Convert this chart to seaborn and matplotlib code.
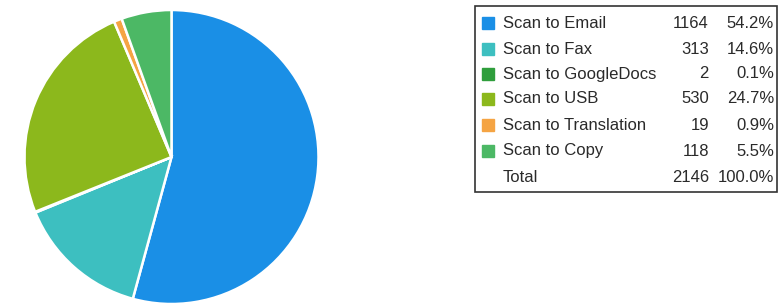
import seaborn as sns
import matplotlib.pyplot as plt
from matplotlib.patches import Rectangle

# Scan usage by destination
labels = ['Scan to Email', 'Scan to Fax', 'Scan to GoogleDocs', 'Scan to USB',
          'Scan to Translation', 'Scan to Copy']
counts = [1164, 313, 2, 530, 19, 118]
colors = ['#1a8fe6', '#3dbfc0', '#2f9e3c', '#8cb81c', '#f5a443', '#4cb865']

sns.set_style('white')
plt.rcParams['font.family'] = ['Liberation Sans', 'DejaVu Sans']

W, H = 780, 307
fig = plt.figure(figsize=(W / 100, H / 100), dpi=100)

# pie, starting at 12 o'clock and going clockwise
ax = fig.add_axes([24.5 / W, 3 / H, 294 / W, 294 / H])
ax.pie(counts, colors=colors, startangle=90, counterclock=False,
       wedgeprops=dict(edgecolor='white', linewidth=1.8))
ax.set_xlim(-1.0, 1.0)
ax.set_ylim(-1.0, 1.0)
ax.set_aspect('equal')
ax.axis('off')

# legend table
total = sum(counts)
fig.patches.append(Rectangle((475 / W, 1 - 192 / H), 302 / W, 186 / H,
                             transform=fig.transFigure, fill=False,
                             edgecolor='#333333', linewidth=1.2))
rows_y = [23, 49, 74, 99, 125, 151, 177]
fs = 12
tc = '#2a2a2a'
for i, (lab, c, col) in enumerate(zip(labels, counts, colors)):
    y = 1 - rows_y[i] / H
    fig.patches.append(Rectangle((482 / W, y - 6 / H), 12 / W, 12 / H,
                                 transform=fig.transFigure, color=col))
    fig.text(503 / W, y, lab, va='center', ha='left', fontsize=fs, color=tc)
    fig.text(709 / W, y, f'{c}', va='center', ha='right', fontsize=fs, color=tc)
    fig.text(774 / W, y, f'{c / total * 100:.1f}%', va='center', ha='right',
             fontsize=fs, color=tc)
y = 1 - rows_y[-1] / H
fig.text(503 / W, y, 'Total', va='center', ha='left', fontsize=fs, color=tc)
fig.text(709 / W, y, f'{total}', va='center', ha='right', fontsize=fs, color=tc)
fig.text(774 / W, y, '100.0%', va='center', ha='right', fontsize=fs, color=tc)

fig.savefig('out.png', dpi=100)
